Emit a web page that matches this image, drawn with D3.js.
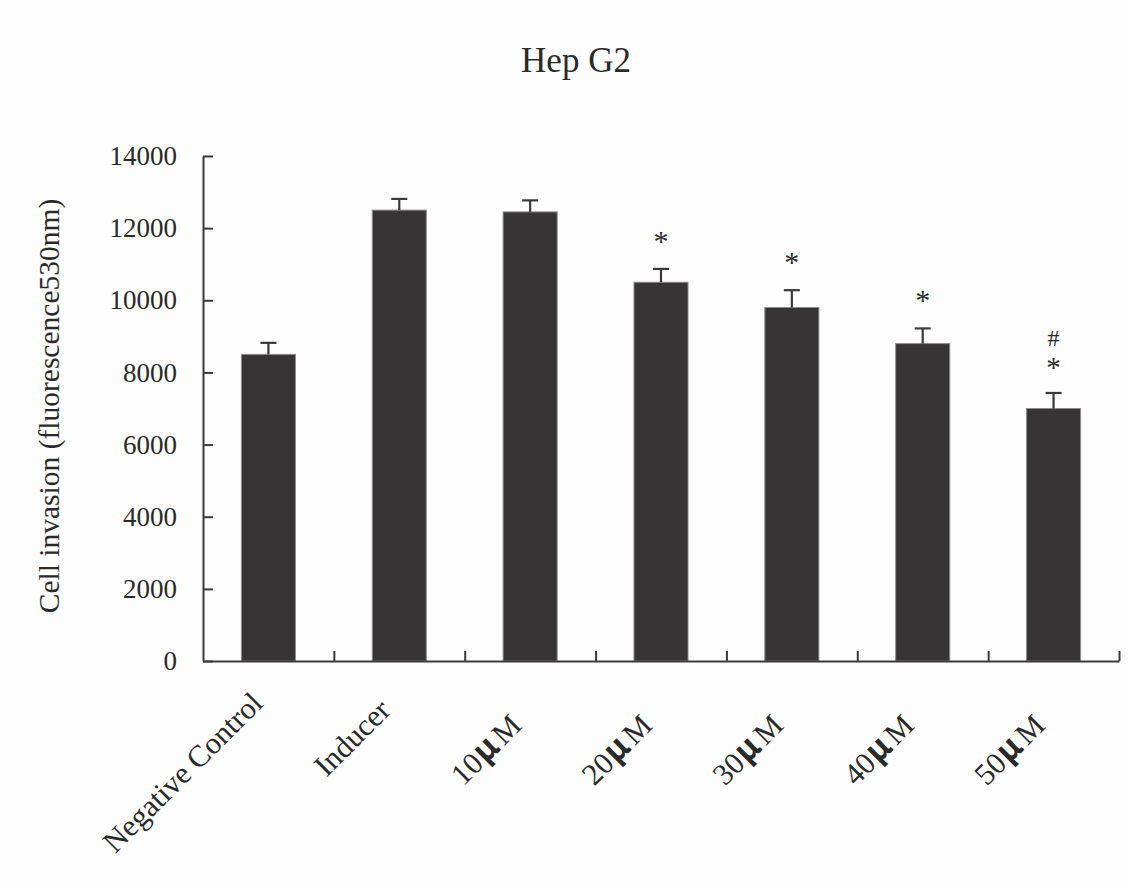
<!DOCTYPE html>
<html>
<head>
<meta charset="utf-8">
<script src="https://cdn.jsdelivr.net/npm/d3@7"></script>
<style>
  html, body { margin: 0; padding: 0; background: #fdfdfd; }
  svg { display: block; }
  text { font-family: "Liberation Serif", "Times New Roman", serif; fill: #2a2a2a; }
</style>
</head>
<body>
<svg id="chart" width="1129" height="882"></svg>
<script>
// Hep G2 cell invasion per treatment group
const categories = ["Negative Control", "Inducer", "10μM", "20μM", "30μM", "40μM", "50μM"];
const means      = [8500, 12500, 12450, 10500, 9800, 8800, 7000];
const errors     = [320, 310, 320, 370, 480, 420, 430];
const starMarks  = ["", "", "", "*", "*", "*", "*"];
const hashMarks  = ["", "", "", "", "", "", "#"];
const yTicks     = [0, 2000, 4000, 6000, 8000, 10000, 12000, 14000];

const W = 1129, H = 882;
const margin = { left: 203, right: 10, top: 156, bottom: 221 };
const plotL = margin.left, plotR = W - margin.right;
const plotT = margin.top, plotB = H - margin.bottom;

const svg = d3.select("#chart");
svg.append("rect").attr("width", W).attr("height", H).attr("fill", "#fdfdfd");

const data = categories.map((c, i) => ({
  cat: c, mean: means[i], err: errors[i], star: starMarks[i], hash: hashMarks[i]
}));

const pad = 0.587;
const x = d3.scaleBand().domain(categories).range([plotL, plotR])
  .paddingInner(pad).paddingOuter(pad / 2);
const y = d3.scaleLinear().domain([0, 14000]).range([plotB, plotT]);

// slot boundaries for the category axis ticks
const slot = d3.scaleLinear().domain([0, categories.length]).range([plotL, plotR]);

const ink = "#3a3a3a";

// bars
svg.append("g").selectAll("rect").data(data).join("rect")
  .attr("x", d => x(d.cat))
  .attr("y", d => y(d.mean))
  .attr("width", x.bandwidth())
  .attr("height", d => y(0) - y(d.mean))
  .attr("fill", "#363435")
  .attr("stroke", "#8c8c8c")
  .attr("stroke-width", 1);

// upper error bars
const eb = svg.append("g").attr("stroke", ink).attr("stroke-width", 2.2);
data.forEach(d => {
  const cx = x(d.cat) + x.bandwidth() / 2;
  eb.append("line").attr("x1", cx).attr("x2", cx)
    .attr("y1", y(d.mean)).attr("y2", y(d.mean + d.err));
  eb.append("line").attr("x1", cx - 8).attr("x2", cx + 8)
    .attr("y1", y(d.mean + d.err)).attr("y2", y(d.mean + d.err));
});

// significance marks: asterisk above the error cap, hash stacked above it
const sig = svg.append("g").attr("text-anchor", "middle");
data.forEach(d => {
  const cx = x(d.cat) + x.bandwidth() / 2;
  const capY = y(d.mean + d.err);
  const starBase = capY - (d.hash ? 16 : 18);
  if (d.star) sig.append("text").attr("x", cx).attr("y", starBase)
    .attr("font-size", d.hash ? 29 : 30).text(d.star);
  if (d.hash) sig.append("text").attr("x", cx).attr("y", starBase - 31)
    .attr("font-size", 24).text(d.hash);
});

// y axis
const yAxis = svg.append("g").attr("transform", `translate(${plotL},0)`)
  .call(d3.axisLeft(y).tickValues(yTicks).tickSizeInner(-10).tickSizeOuter(0).tickPadding(26)
    .tickFormat(d3.format("d")));
yAxis.select(".domain").attr("stroke", ink).attr("stroke-width", 2);
yAxis.selectAll(".tick line").attr("stroke", ink).attr("stroke-width", 2);
yAxis.selectAll(".tick text").attr("font-size", 27).attr("fill", "#2a2a2a")
  .attr("font-family", "Liberation Serif, serif");

// x axis with ticks between categories
const xAxis = svg.append("g").attr("transform", `translate(0,${plotB})`)
  .call(d3.axisBottom(slot).tickValues(d3.range(1, categories.length + 1))
    .tickSizeInner(-10).tickSizeOuter(0).tickFormat(""));
xAxis.select(".domain").attr("stroke", ink).attr("stroke-width", 2);
xAxis.selectAll(".tick line").attr("stroke", ink).attr("stroke-width", 2);

// rotated category labels
const lab = svg.append("g").attr("font-size", 30.5).attr("text-anchor", "end");
data.forEach(d => {
  const cx = x(d.cat) + x.bandwidth() / 2;
  const hasMu = d.cat.includes("μ");
  const ax = cx + (hasMu ? -7 : (d.cat === "Inducer" ? -7 : -4));
  const ay = plotB + (hasMu ? 66 : (d.cat === "Inducer" ? 51 : 44));
  const t = lab.append("text").attr("transform", `translate(${ax},${ay}) rotate(-45)`);
  if (hasMu) {
    const parts = d.cat.split("μ");
    t.append("tspan").text(parts[0]);
    t.append("tspan").attr("dx", 1).attr("font-family", "Noto Sans CJK SC, sans-serif")
      .attr("font-weight", "bold").attr("font-size", 33).text("μ");
    t.append("tspan").attr("dx", 4).text(parts[1]);
  } else {
    t.text(d.cat);
  }
});

// y axis title
svg.append("text")
  .attr("transform", `translate(59,406) rotate(-90)`)
  .attr("text-anchor", "middle").attr("font-size", 29.5)
  .text("Cell invasion (fluorescence530nm)");

// chart title
svg.append("text").attr("x", 576).attr("y", 72)
  .attr("text-anchor", "middle").attr("font-size", 35)
  .text("Hep G2");
</script>
</body>
</html>
